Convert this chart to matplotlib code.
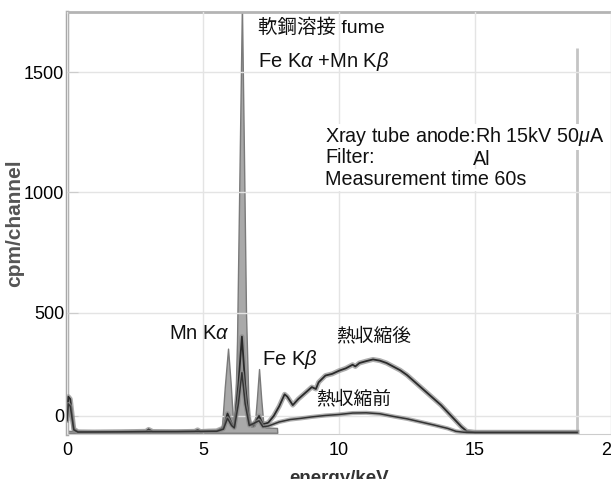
import matplotlib
matplotlib.use("Agg")
import matplotlib.pyplot as plt

plt.rcParams['font.family'] = ['Liberation Sans', 'Noto Sans CJK JP', 'DejaVu Sans']
plt.rcParams['mathtext.fontset'] = 'custom'
plt.rcParams['mathtext.it'] = 'Liberation Sans:italic'
plt.rcParams['mathtext.rm'] = 'Liberation Sans'

# fume spectrum (grey filled): energy in keV, counts in cpm/channel
fume_e = [0.0, 1.0, 2.0, 2.9, 3.0, 3.1, 4.0, 4.7, 4.8, 4.9, 5.6, 5.7, 5.8, 5.92, 6.02, 6.1,
          6.17, 6.25, 6.33, 6.43, 6.5, 6.58, 6.68, 6.78, 6.9, 6.98, 7.06, 7.14, 7.22, 7.3, 7.72, 7.73]
fume_c = [8, 6, 6, 8, 14, 7, 6, 8, 14, 8, 10, 30, 190, 350, 200, 50,
          35, 380, 1000, 1780, 1200, 500, 80, 25, 30, 140, 265, 140, 35, 22, 20, 0]

# after heat shrink (熱収縮後)
after_e = [0.0, 0.05, 0.12, 0.25, 0.4, 1.0, 2.0, 2.9, 3.0, 3.15, 4.0, 4.7, 4.8, 4.9, 5.2, 5.5,
           5.75, 5.9, 6.05, 6.15, 6.3, 6.43, 6.55, 6.7, 6.85, 7.06, 7.2, 7.4, 7.6, 7.8, 8.0, 8.1,
           8.3, 8.5, 8.75, 9.0, 9.15, 9.25, 9.5, 9.75, 10.0, 10.25, 10.5, 10.6, 10.75, 11.0, 11.25,
           11.5, 11.75, 12.0, 12.25, 12.5, 12.75, 13.0, 13.25, 13.5, 13.75, 14.0, 14.25, 14.5, 14.7,
           15.0, 16.0, 17.0, 18.0, 18.75]
after_c = [60, 150, 140, 15, 4, 3, 4, 6, 14, 5, 4, 6, 12, 5, 7, 8,
           20, 80, 40, 25, 200, 400, 200, 40, 30, 70, 35, 42, 70, 110, 160, 150,
           115, 140, 165, 190, 182, 210, 238, 245, 258, 268, 283, 276, 290, 298, 305,
           300, 290, 275, 260, 240, 215, 190, 165, 140, 115, 85, 55, 25, 6,
           2, 2, 2, 2, 2]

# before heat shrink (熱収縮前)
before_e = [0.0, 0.05, 0.12, 0.25, 0.4, 5.5, 5.75, 5.9, 6.05, 6.15, 6.3, 6.43, 6.55, 6.7, 7.06,
            7.2, 7.4, 7.8, 8.2, 8.6, 9.0, 9.5, 10.0, 10.5, 11.0, 11.5, 12.0, 12.5, 13.0, 13.5,
            14.0, 14.3, 14.6, 15.0, 18.75]
before_c = [50, 120, 110, 12, 3, 6, 15, 60, 30, 20, 120, 250, 120, 30, 50,
            25, 28, 45, 55, 60, 66, 72, 76, 82, 83, 79, 68, 58, 45, 32,
            18, 6, 2, 1, 1]

# detector window edge
window_e = 18.75
window_top = 1600

x_ticks = [0, 5, 10, 15, 20]
y_tick_values = [70, 500, 1000, 1500]
y_tick_labels = ['0', '500', '1000', '1500']

fig = plt.figure(figsize=(6.11, 4.79), dpi=100)
ax = fig.add_axes([0.1097, 0.094, 0.8903, 0.881])

ax.fill_between(fume_e, fume_c, 0, color='#a9a9a9', edgecolor='#7a7a7a', lw=1, zorder=1)
ax.plot(after_e, after_c, color='#8c8c8c', lw=3.6, alpha=0.7, zorder=3)
ax.plot(after_e, after_c, color='#2a2a2a', lw=1.3, zorder=3)
ax.plot(before_e, before_c, color='#8c8c8c', lw=3.0, alpha=0.7, zorder=3)
ax.plot(before_e, before_c, color='#333333', lw=1.1, zorder=3)
ax.vlines(window_e, 0, window_top, color='#c4c4c4', lw=2, zorder=2)

ax.set_xlim(0, 20)
ax.set_ylim(-5, 1750)
ax.set_xticks(x_ticks)
ax.set_yticks(y_tick_values)
ax.set_yticklabels(y_tick_labels)
ax.tick_params(axis='x', length=0, pad=6, labelsize=13)
ax.tick_params(axis='y', direction='in', length=8, color='#cccccc', pad=2, labelsize=13)
ax.grid(True, color='#e4e4e4', lw=1)
ax.set_axisbelow(False)

ax.spines['left'].set_color('#a8a8a8')
ax.spines['left'].set_linewidth(2.5)
ax.spines['top'].set_color('#b4b4b4')
ax.spines['top'].set_linewidth(2)
ax.spines['bottom'].set_color('#cccccc')
ax.spines['right'].set_color('#cccccc')

ax.set_xlabel('energy/keV', fontsize=13.5, fontweight='bold', color='#333333', labelpad=8)
ax.set_ylabel('cpm/channel', fontsize=15, fontweight='bold', color='#555555')
ax.yaxis.set_label_coords(-0.078, 0.5)

ann = dict(fontsize=14.5, color='#111111', va='center', zorder=5)
blk = dict(fontsize=14.2, color='#111111', va='center', zorder=5)
box = dict(facecolor='white', edgecolor='none', pad=1)
ax.text(7.02, 1684, '軟鋼溶接 fume', fontsize=14, color='#111111', va='center')
ax.text(7.02, 1543, r'Fe K$\alpha$ +Mn K$\beta$', **ann)
ax.text(9.49, 1231, r'Xray tube anode:Rh 15kV 50$\mu$A', bbox=box, **blk)
ax.text(9.49, 1143, 'Filter:', bbox=box, **blk)
ax.text(15.26, 1135, 'Al', ha='center', **blk)
ax.text(9.49, 1052, 'Measurement time 60s', bbox=box, **blk)
ax.text(5.99, 412, r'Mn K$\alpha$', ha='right', **ann)
ax.text(7.17, 304, r'Fe K$\beta$', **ann)
ax.text(9.89, 399, '熱収縮後', fontsize=13.5, color='#111111', va='center', zorder=5)
ax.text(9.15, 137, '熱収縮前', fontsize=13.5, color='#111111', va='center', zorder=5)

fig.savefig('out.png', dpi=100, facecolor='white')
